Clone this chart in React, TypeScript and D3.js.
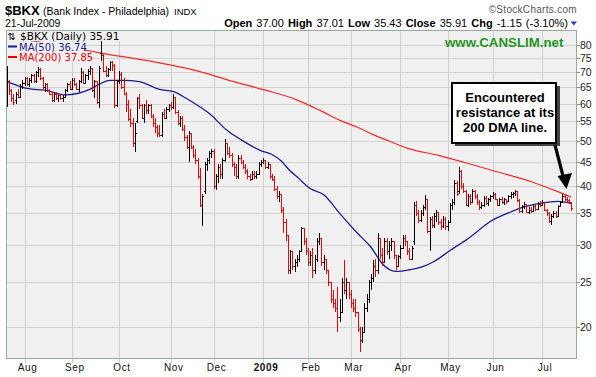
import React from "react";
import * as d3 from "d3";

// ---- data ----
const opens = [
  62,67,64,61.5,61,63,62,65.5,66.5,68,
  66,67.5,69,67,70,71,68,65,66,64,
  63,61,63,61.5,62.5,61.5,62,64,66,64.5,
  67.5,66,64.5,67,70,66.5,69,70.5,71.5,64,
  67,60.5,77,76,70.5,69,71,73.5,72.5,59.5,
  67,69.5,65,63,60,55.5,54.5,49.5,55,61.5,
  59.5,56,59.5,58,59.5,56.5,54.5,53.5,52,51.5,
  57,56,58.5,59.5,59,62,57.5,54.5,56,53,
  51,48.5,52,48.5,46.5,45.5,42,36.5,39,44.5,
  45.5,47,47.5,40,42,44,42.5,45.5,49.5,47,
  46.5,44.5,44,42,46,45,44,43,42,41.5,
  42.5,42,42.5,44.5,45,45.5,44,44.5,42,41.5,
  39.5,38,38.5,35.5,33.5,31.5,26.5,29,27,27.5,
  28,29,32.5,30.5,29,27.5,28.5,26.5,28,30.5,
  31,27.5,28,26.5,25,23,22.5,22,21,21.5,
  25,24,25,23.5,22.5,22,21.5,19.8,18.8,19.5,
  22,23,25,25.5,27,26.5,31,28.5,27.5,30.5,
  29,30,30.5,28.5,27,28.3,29.5,31,30.5,29,
  28,30.5,36.5,35,33.8,35,36,37.5,32,34,
  33,34.5,35.2,33.5,32.8,34,32.8,33.5,36.5,37,
  40.5,39,43,40,39,36.5,38,37,39,38,
  37,36,36.5,37.8,36.8,37.5,38,38.5,37.5,36.5,
  37.5,37,37.5,37.2,38,38.5,38.7,39,37.3,35.3,
  36.2,36.6,35.2,35.6,35.3,36.3,35.8,36.7,36.4,36.9,
  35.5,35,33.7,34.5,35,34.6,36.3,37,38,37.6,
  37.3,37,
];
const highs = [
  72,67.5,64.5,63,63.5,64.5,66,67.5,68.5,68.5,
  68,69.5,69.5,70.5,71.8,71.5,68.5,66.5,66.5,64.5,
  63.5,63.5,63.5,63,63,62.5,64.5,66.5,67,68,
  68,66.5,67.5,71.5,70.5,69.5,71,72,71.5,67.5,
  67,72,81.5,76.5,72,71.5,74,74,73,67.5,
  70.5,70,68,63.5,61,58.5,56,54.5,62,63,
  60,60,61,60,60,57,56,54,54,57.5,
  58.5,59,60,60.5,62.8,62,58,56.5,56.5,54,
  51.5,52.5,52,49,48,46,43.8,38.5,45,46,
  47.5,48,48,42.5,44.5,44.5,46,50.5,49.5,48.5,
  47,45,44.5,46.5,46.5,45.5,44.5,43.5,42.5,43,
  43,43,45,45.5,46,45.5,45,44.5,42.5,42,
  40,39,38.5,36,34,31.5,29.2,29,28,28.5,
  29.2,32.7,32.5,31,29.5,29,29.5,28.5,31,31.8,
  31,28.5,28,26.5,25,24,23,24.4,23,25.5,
  27.8,25.5,25,24,23,23,21.5,20,20,22.5,
  23.5,25.2,26,27.8,28,31.8,31,29.5,31,31,
  30.5,31,30.5,28.5,28.5,30,31.5,31.5,30.5,29.5,
  29.8,37,37.2,35.5,35.5,36.5,38.2,37.5,34.4,34.5,
  35,35.6,35.2,34,34.5,34.4,33.8,36.8,37.5,41.2,
  41,44,43.2,40.5,39.2,38.5,38.5,39.5,39.3,38.5,
  37.3,37,38,38,37.8,38.3,38.8,38.6,37.6,37.8,
  37.9,37.8,37.6,38.2,38.8,38.9,39.3,39,37.5,36.5,
  37,36.6,36,36,36.6,36.4,37,37.2,37.3,36.9,
  35.8,35.2,34.8,35.4,35.3,36.5,37.2,38.4,38.3,37.9,
  37.6,37.01,
];
const lows = [
  59,62.5,60.5,59.5,60,61.5,61.5,64.5,65.5,65.5,
  65,66.5,66.5,66.5,68.5,67.5,64.5,63.5,63.5,62.5,
  60.5,60.5,61,60.5,61,60.5,61.5,63.5,64,64,
  65.5,64,63.5,66.5,66,66,67.5,69,63.5,61.5,
  60,58.6,74,70,68.5,68.5,70.5,70.5,58.6,59,
  66,64.5,62.5,57.5,55,53.5,48.5,47.3,54.5,58.5,
  55.5,54.5,57,57,56,53.5,52,51,51,51,
  55.5,55.5,57.5,58,58.5,57,54,53.5,52.5,50,
  48,45,48,46,44.5,41.5,36,32.9,38.5,43,
  44.5,46,39.5,39.3,40.5,41.5,41.5,45,46.5,46,
  44,42,41.5,41.5,44.5,43.5,42.5,41.5,41,41.5,
  41.5,41.5,42.5,44,44.5,43.5,43.5,41.5,41,39,
  37.5,37,35,31.8,30.5,26,26,26.5,26.2,26.8,
  27.5,29,30,28.5,27,27,25.5,26,27.5,30,
  27,26.5,26,24.5,22.5,22,21.5,19.5,20.5,21.4,
  23.5,23,23,22,21.5,21,19.5,17.7,18.5,19.5,
  21.5,22.5,24,25,25.6,26,28,27,27.5,28.5,
  28,29,28,26.5,26.8,28,29.5,29.8,28.5,27.8,
  27.8,30,34.5,33.3,33.5,34.5,35.5,31.8,29,32.5,
  32.5,33.5,33,32.2,32.5,32.2,32,33.5,35.5,36.5,
  38,38.5,39.5,38.6,36.2,36,36.5,37,37.5,36.5,
  35.6,35.8,36,36.5,36.3,37,37.5,37.3,36.3,36.4,
  36.6,36.5,36.6,36.9,37.5,37.8,38,37,35,35,
  35.8,35,34.9,35,35.2,35.4,35.6,36,36.2,35.3,
  34.6,33.4,33.1,34.1,34.2,34.5,36,36.8,37.2,36.8,
  36.7,35.43,
];
const closes = [
  67,64,61.5,60.5,63,62,65.5,66.5,68,66,
  67.5,69,67,70,71,68,65,66,64,63,
  61,63,61.5,62.5,61.5,62,64,66,64.5,67.5,
  66,64.5,67,70,66.5,69,70.5,71.5,64,67,
  60.5,71.5,76,70.5,69,71,73.5,72.5,59.5,67,
  69.5,65,63,60,55.5,54.5,49.5,52,61.5,59.5,
  56,59.5,58,59.5,56.5,54.5,53.5,52,51.5,57,
  56,58.5,59.5,59,62,57.5,54.5,56,53,51,
  48.5,52,48.5,46.5,45.5,42,36.5,38,44.5,45.5,
  47,47.5,40,42,44,42.5,45.5,49.5,47,46.5,
  44.5,44,42,46,45,44,43,42,41.5,42.5,
  42,42.5,44.5,45,45.5,44,44.5,42,41.5,39.5,
  38,38.5,35.5,33.5,31.5,26.5,29,27,27.5,28,
  29,32.5,30.5,29,27.5,28.5,26.5,28,30.5,31,
  27.5,28,26.5,25,23,22.5,22,21,21.5,25,
  24,25,23.5,22.5,22,21.5,19.8,18.8,19.5,22,
  23,25,25.5,27,26.5,31,28.5,27.5,30.5,29,
  30,30.5,28.5,27,28.3,29.5,31,30.5,29,28,
  29.5,36.5,35,33.8,35,36,37.5,32,34,33,
  34.5,35.2,33.5,32.8,34,32.8,33.5,36.5,37,40.5,
  38.5,43,40,39,36.5,38,37,39,38,37,
  36,36.5,37.8,36.8,37.5,38,38.5,37.5,36.5,37.5,
  37,37.5,37.2,38,38.5,38.7,39,37.3,35.3,36.2,
  36.6,35.2,35.6,35.3,36.3,35.8,36.7,36.4,36.9,35.5,
  35,33.7,34.5,35,34.6,36.3,37,38,37.6,37.3,
  37.06,35.91,
];

const ma50Idx = [0,8,19,26,37,41,46,52,59,68,74,80,86,90,98,104,113,118,122,126,129,135,141,148,156,162,167,173,179,185,190,197,206,215,224,230,237,245,251];
const ma50Val = [66.9,64.8,63.8,62.6,64.3,65.9,67.2,67.2,66.8,64.3,63.7,61.5,59.0,57.2,52.6,50.3,47.6,46.7,45.3,43.1,41.9,39.5,38.3,35.0,31.7,29.6,27.3,26.3,26.5,26.9,27.6,29.1,31.1,33.6,35.2,36.1,36.7,37.1,36.74];
const ma200Idx = [0,16,32,42,65,86,100,115,129,140,148,156,163,170,178,192,203,218,233,245,251];
const ma200Val = [83.5,81,78.5,76.9,73.7,70.2,67.0,64.1,61.1,57.8,55.3,53.4,51.5,49.9,48.2,46.5,45.0,42.9,40.9,38.9,37.85];

const monthIdx = [8,29,50,73,92,114,134,153,175,196,216,238];
const monthLabels = ["Aug","Sep","Oct","Nov","Dec","2009","Feb","Mar","Apr","May","Jun","Jul"];
const yTicks = [20,25,30,35,40,45,50,55,60,65,70,75,80];

const headerStats = [
  ["Open", "37.00"],
  ["High", "37.01"],
  ["Low", "35.43"],
  ["Close", "35.91"],
  ["Chg", "-1.15 (-3.10%)"],
];
const annotationLines = ["Encountered", "resistance at its", "200 DMA line."];

const PL = 6, PT = 30, PR = 577, PB = 359;
const SANS = "'Liberation Sans', Arial, Helvetica, sans-serif";
const VSANS = "'DejaVu Sans', Verdana, sans-serif";

export default function App() {
  const x = d3.scaleLinear().domain([0, 251]).range([6.5, 571.25]);
  const y = d3.scaleLog().domain([20, 80]).range([327, 45]);

  const ma50Line = d3
    .line<number>()
    .x((_, i) => x(ma50Idx[i]))
    .y((v) => y(v))
    .curve(d3.curveMonotoneX)(ma50Val) as string;
  const ma200Line = d3
    .line<number>()
    .x((_, i) => x(ma200Idx[i]))
    .y((v) => y(v))
    .curve(d3.curveMonotoneX)(ma200Val) as string;

  const bars = closes.map((c, i) => {
    const prev = i === 0 ? opens[0] : closes[i - 1];
    const color = c >= prev ? "#000000" : "#ee0000";
    const px = Math.round(x(i)) + 0.5;
    const d = `M${px},${y(highs[i])}V${y(lows[i])}M${px - 1.5},${Math.round(y(opens[i])) + 0.5}H${px}M${px},${Math.round(y(closes[i])) + 0.5}H${px + 1.5}`;
    return <path key={i} d={d} stroke={color} strokeWidth={1} fill="none" />;
  });

  return (
    <svg
      width={596}
      height={377}
      viewBox="0 0 596 377"
      style={{ position: "fixed", left: 0, top: 0, background: "#ffffff" }}
    >
      <rect x={0} y={0} width={596} height={377} fill="#ffffff" />
      {/* header */}
      <text x={5} y={14.5} fontFamily={SANS} fontSize={13} fontWeight="bold" fill="#000">$BKX</text>
      <text x={43} y={14.5} fontFamily={SANS} fontSize={10.5} fill="#000">(Bank Index - Philadelphia)</text>
      <text x={174} y={14.5} fontFamily={SANS} fontSize={9.5} fill="#000">INDX</text>
      <text x={5} y={27} fontFamily={SANS} fontSize={10.5} fill="#000">21-Jul-2009</text>
      <text x={577} y={13} textAnchor="end" fontFamily={SANS} fontSize={10} fill="#555" letterSpacing={0.3}>©StockCharts.com</text>
      <text x={568} y={26.5} textAnchor="end" fontFamily={SANS} fontSize={11} fill="#000" wordSpacing={1}>
        {headerStats.map(([k, v], i) => (
          <React.Fragment key={k}>
            <tspan fontWeight="bold">{k}</tspan>
            <tspan>{" " + v + (i < headerStats.length - 1 ? " " : "")}</tspan>
          </React.Fragment>
        ))}
      </text>
      <path d="M570.5,21.5L577,21.5L573.75,25.5Z" fill="#1f3fd6" />

      {/* plot background */}
      <rect x={PL} y={PT} width={PR - PL} height={PB - PT} fill="#f0f0f0" />
      {yTicks.map((t) => (
        <line key={t} x1={PL} x2={PR} y1={Math.round(y(t)) + 0.5} y2={Math.round(y(t)) + 0.5} stroke="#d2d2d2" strokeWidth={1} />
      ))}
      {monthIdx.map((m) => (
        <line key={m} x1={Math.round(x(m)) + 0.5} x2={Math.round(x(m)) + 0.5} y1={PT} y2={PB + 4} stroke="#cfcfcf" strokeWidth={1} />
      ))}

      {/* moving averages */}
      <path d={ma200Line} fill="none" stroke="#f02a2a" strokeWidth={1.2} />
      <path d={ma50Line} fill="none" stroke="#1c1c8e" strokeWidth={1.3} />

      {/* OHLC bars */}
      <g shapeRendering="crispEdges">{bars}</g>

      {/* legend */}
      <rect x={7} y={31} width={118} height={10} fill="#f0f0f0" />
      <rect x={7} y={42} width={77} height={10} fill="#f0f0f0" />
      <rect x={7} y={52.5} width={80} height={10} fill="#f0f0f0" />
      <text x={7.5} y={39.5} fontFamily={VSANS} fontSize={10} fill="#000">⇅</text>
      <text x={20} y={39.5} fontFamily={VSANS} fontSize={10.5} fill="#000">$BKX (Daily) 35.91</text>
      <line x1={8} x2={17} y1={46.5} y2={46.5} stroke="#1c1c8e" strokeWidth={2} />
      <text x={19} y={50.5} fontFamily={VSANS} fontSize={10} fill="#1c1c8e">MA(50) 36.74</text>
      <line x1={8} x2={17} y1={57} y2={57} stroke="#ee0000" strokeWidth={2} />
      <text x={19} y={61} fontFamily={VSANS} fontSize={10} fill="#ee0000">MA(200) 37.85</text>

      {/* watermark */}
      <text x={445} y={47} fontFamily={SANS} fontSize={13.3} fontWeight="bold" fill="#1f961f">www.CANSLIM.net</text>

      {/* frame */}
      <rect x={PL + 0.5} y={PT + 0.5} width={PR - PL - 1} height={PB - PT - 1} fill="none" stroke="#98aaa2" strokeWidth={1} />

      {/* y axis */}
      {yTicks.map((t) => (
        <g key={t}>
          <line x1={PR} x2={PR + 3} y1={Math.round(y(t)) + 0.5} y2={Math.round(y(t)) + 0.5} stroke="#888" />
          <text x={580} y={y(t) + 4} fontFamily={SANS} fontSize={10.5} fill="#222">{t}</text>
        </g>
      ))}

      {/* x axis */}
      {monthIdx.map((m, i) => (
        <text
          key={m}
          x={x(m) + 3}
          y={371}
          textAnchor="middle"
          fontFamily={SANS}
          fontSize={10}
          letterSpacing={0.6}
          fontWeight={monthLabels[i] === "2009" ? "bold" : "normal"}
          fill="#111"
        >
          {monthLabels[i]}
        </text>
      ))}

      {/* annotation */}
      <rect x={455} y={86} width={105} height={60} fill="#444" />
      <rect x={452} y={83} width={104} height={60} fill="#ffffff" stroke="#000" strokeWidth={2} />
      {annotationLines.map((s, i) => (
        <text key={s} x={505} y={102 + i * 15} textAnchor="middle" fontFamily={SANS} fontSize={13} fontWeight="bold" fill="#000">
          {s}
        </text>
      ))}
      <line x1={555} y1={145} x2={563.5} y2={178} stroke="#000" strokeWidth={3.2} />
      <path d="M557.5,176L572,173L566.5,189Z" fill="#000" />
    </svg>
  );
}
